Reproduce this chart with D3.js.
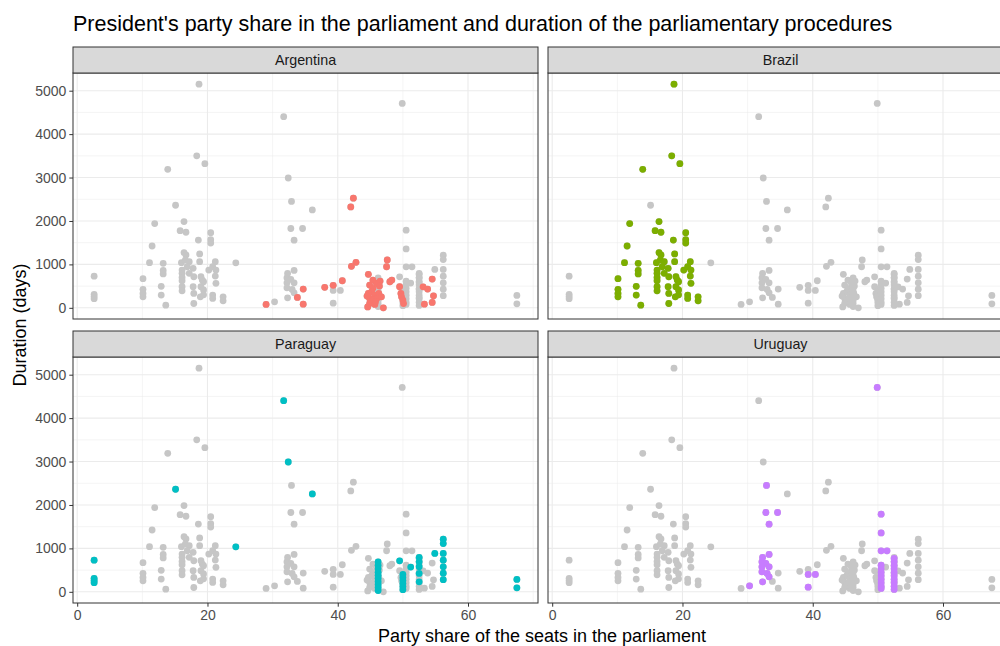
<!DOCTYPE html>
<html>
<head>
<meta charset="utf-8">
<script src="https://cdn.jsdelivr.net/npm/d3@7"></script>
<style>
  html, body { margin: 0; padding: 0; background: #ffffff; }
  svg { display: block; font-family: Arial, "Liberation Sans", sans-serif; }
</style>
</head>
<body>
<svg id="chart" width="1000" height="646"></svg>
<script>
// Facet order and colours (ggplot2 default hue palette)
const countries = ["Argentina", "Brazil", "Paraguay", "Uruguay"];
const countryColors = ["#F8766D", "#7CAE00", "#00BFC4", "#C77CFF"];

// Party share of the seats (%) and procedure duration (days), one pair of arrays per country
const argentinaShare = [29.0, 33.8, 34.7, 34.7, 38.0, 39.3, 40.7, 42.1, 42.8, 42.0, 42.4, 44.7,
  44.9, 45.4, 46.0, 46.5, 45.2, 45.7, 46.3, 44.9, 45.4, 46.0, 46.7, 44.9, 45.7, 47.0, 44.7, 44.5,
  47.6, 47.5, 48.3, 48.0, 49.5, 49.7, 49.8, 50.0, 50.1, 53.1, 53.8, 54.7, 53.3, 54.5, 54.5,
  44.6, 45.8, 45.4, 45.95, 46.4];
const argentinaDays = [78, 240, 432, 85, 471, 517, 623, 955, 1048, 2324, 2525, 771,
  524, 448, 563, 616, 369, 293, 332, 217, 178, 217, 254, 100, 78, 0, 332, 270,
  1101, 946, 640, 600, 485, 332, 254, 178, 100, 484, 432, 277, 85, 125, 662,
  20, 140, 640, 563, 500];

const brazilShare = [18.7, 18.35, 19.6, 13.9, 11.9, 16.4, 15.8, 16.7, 20.5, 20.5, 20.5, 18.6,
  11.5, 16.4, 16.7, 18.8, 18.8, 11.1, 13.2, 13.2, 13.2, 10.1, 10.1, 10.1, 10.1, 12.9, 12.9, 13.6,
  16.0, 16.6, 17.2, 16.1, 16.1, 16.1, 16.1, 16.1, 16.1, 16.9, 17.2, 17.8, 17.9, 17.8, 17.9, 17.9,
  19.0, 19.2, 19.0, 18.9, 19.4, 19.4, 19.4, 20.2, 20.8, 21.2, 21.3, 21.2, 21.3, 20.8, 20.8, 22.4, 22.4];
const brazilDays = [5150, 3500, 3320, 3190, 1939, 1985, 1777, 1740, 1731, 1570, 1490, 1560,
  1424, 1270, 1216, 1240, 1062, 1040, 1025, 860, 780, 670, 425, 332, 254, 494, 293, 62,
  1040, 1100, 1062, 870, 794, 701, 623, 485, 392, 946, 794, 909, 715, 485, 332, 100,
  715, 640, 485, 254, 600, 410, 300, 870, 946, 1062, 870, 732, 563, 293, 217, 254, 162];

const paraguayShare = [2.6, 2.6, 2.6, 2.6, 15.1, 24.35, 31.7, 32.4, 36.1,
  46.2, 46.2, 46.2, 46.2, 46.2, 46.2, 46.2, 46.2, 46.2, 46.2, 49.5,
  50.0, 50.0, 50.0, 50.0, 50.0, 50.0, 51.2, 52.5, 52.5, 52.5, 52.5, 52.5, 54.9,
  56.2, 56.2, 56.2, 56.2, 56.2, 56.2, 56.2, 67.5, 67.5];
const paraguayDays = [729, 310, 260, 210, 2362, 1035, 4402, 2990, 2254,
  690, 610, 530, 450, 380, 310, 240, 170, 100, 30, 713,
  400, 330, 260, 190, 120, 50, 570, 790, 690, 580, 423, 230, 883,
  1210, 1110, 883, 729, 575, 430, 280, 285, 92];

const uruguayShare = [30.3, 32.3, 32.9, 32.8, 34.6, 33.3, 32.3, 33.3, 32.2, 32.8, 32.2, 33.3,
  32.2, 33.0, 33.3, 39.3, 40.4, 39.3, 49.9, 50.5, 50.5, 50.5, 51.4,
  50.5, 50.5, 50.5, 50.5, 50.5, 50.5, 50.5, 50.5,
  52.5, 52.5, 52.5, 52.5, 52.5, 52.5, 52.5, 52.5, 52.5, 52.5];
const uruguayDays = [138, 230, 2450, 1826, 1826, 1557, 791, 860, 690, 653, 575, 575,
  460, 423, 345, 400, 400, 108, 4708, 1787, 1357, 943, 943,
  614, 530, 450, 370, 290, 210, 130, 78,
  768, 690, 610, 530, 450, 370, 290, 210, 130, 55];

// Axis breaks
const xMajorTicks = [0, 20, 40, 60];
const xMinorTicks = [10, 30, 50, 70];
const yMajorTicks = [0, 1000, 2000, 3000, 4000, 5000];
const yMinorTicks = [500, 1500, 2500, 3500, 4500];

const shares = [argentinaShare, brazilShare, paraguayShare, uruguayShare];
const days = [argentinaDays, brazilDays, paraguayDays, uruguayDays];

const points = [];
countries.forEach((c, i) => {
  shares[i].forEach((s, j) => points.push({ country: c, share: s, days: days[i][j] }));
});

const svg = d3.select("#chart");
svg.append("rect").attr("width", 1000).attr("height", 646).attr("fill", "#ffffff");

// Facet geometry
const panelW = 465, panelH = 246, stripH = 26;
const colX = [73, 548];
const rowY = [73, 357];

// Shared scales with ggplot-style 5% expansion
function expand(ext) { const d = (ext[1] - ext[0]) * 0.05; return [ext[0] - d, ext[1] + d]; }
const x = d3.scaleLinear().domain(expand(d3.extent(points, d => d.share))).range([0, panelW]);
const y = d3.scaleLinear().domain(expand([0, d3.max(points, d => d.days)])).range([panelH, 0]);

const gridColor = "#ebebeb";
const frameColor = "#333333";

countries.forEach((country, i) => {
  const col = i % 2, row = Math.floor(i / 2);
  const g = svg.append("g").attr("transform", `translate(${colX[col]},${rowY[row]})`);

  // panel background + grid
  g.append("rect").attr("width", panelW).attr("height", panelH).attr("fill", "#ffffff");
  g.selectAll(".xminor").data(xMinorTicks.filter(t => x(t) >= 0 && x(t) <= panelW)).join("line")
    .attr("x1", d => x(d)).attr("x2", d => x(d)).attr("y1", 0).attr("y2", panelH)
    .attr("stroke", gridColor).attr("stroke-width", 0.55);
  g.selectAll(".yminor").data(yMinorTicks).join("line")
    .attr("x1", 0).attr("x2", panelW).attr("y1", d => y(d)).attr("y2", d => y(d))
    .attr("stroke", gridColor).attr("stroke-width", 0.55);
  g.selectAll(".xmajor").data(xMajorTicks).join("line")
    .attr("x1", d => x(d)).attr("x2", d => x(d)).attr("y1", 0).attr("y2", panelH)
    .attr("stroke", gridColor).attr("stroke-width", 1.1);
  g.selectAll(".ymajor").data(yMajorTicks).join("line")
    .attr("x1", 0).attr("x2", panelW).attr("y1", d => y(d)).attr("y2", d => y(d))
    .attr("stroke", gridColor).attr("stroke-width", 1.1);

  // every observation in grey, then this country's own points in colour
  g.append("g").selectAll("circle").data(points).join("circle")
    .attr("cx", d => x(d.share)).attr("cy", d => y(d.days)).attr("r", 3.4)
    .attr("fill", "#c6c6c6");
  g.append("g").selectAll("circle").data(points.filter(d => d.country === country)).join("circle")
    .attr("cx", d => x(d.share)).attr("cy", d => y(d.days)).attr("r", 3.4)
    .attr("fill", countryColors[i]);

  // panel border
  g.append("rect").attr("width", panelW).attr("height", panelH)
    .attr("fill", "none").attr("stroke", frameColor).attr("stroke-width", 1);

  // strip
  g.append("rect").attr("x", 0).attr("y", -stripH).attr("width", panelW).attr("height", stripH)
    .attr("fill", "#d9d9d9").attr("stroke", frameColor).attr("stroke-width", 1);
  g.append("text").attr("x", panelW / 2).attr("y", -stripH / 2).attr("dy", "0.35em")
    .attr("text-anchor", "middle").attr("font-size", 14.3).attr("fill", "#1a1a1a").text(country);

  // y axis on left column
  if (col === 0) {
    const ya = g.append("g").call(d3.axisLeft(y).tickValues(yMajorTicks).tickSize(3.7).tickPadding(3).tickFormat(d3.format("d")));
    ya.select(".domain").remove();
    ya.selectAll("line").attr("stroke", frameColor);
    ya.selectAll("text").attr("font-size", 14).attr("fill", "#4d4d4d").attr("font-family", null);
  }
  // x axis on bottom row
  if (row === 1) {
    const xa = g.append("g").attr("transform", `translate(0,${panelH})`)
      .call(d3.axisBottom(x).tickValues(xMajorTicks).tickSize(3.7).tickPadding(3).tickFormat(d3.format("d")));
    xa.select(".domain").remove();
    xa.selectAll("line").attr("stroke", frameColor);
    xa.selectAll("text").attr("font-size", 14).attr("fill", "#4d4d4d").attr("font-family", null);
  }
});

// titles
svg.append("text").attr("x", 73).attr("y", 31).attr("font-size", 21.5).attr("fill", "#000000")
  .text("President's party share in the parliament and duration of the parliamentary procedures");
svg.append("text").attr("x", 542).attr("y", 642).attr("text-anchor", "middle")
  .attr("font-size", 18).attr("fill", "#000000").text("Party share of the seats in the parliament");
svg.append("text").attr("transform", `translate(26,${(rowY[0] - stripH + rowY[1] + panelH) / 2}) rotate(-90)`)
  .attr("text-anchor", "middle").attr("font-size", 18).attr("fill", "#000000").text("Duration (days)");
</script>
</body>
</html>
